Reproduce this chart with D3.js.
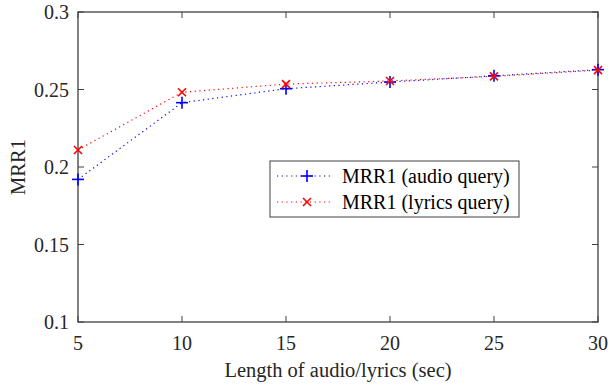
<!DOCTYPE html>
<html>
<head>
<meta charset="utf-8">
<script src="https://cdn.jsdelivr.net/npm/d3@7"></script>
<style>
  body { margin: 0; background: #fff; }
  svg { display: block; }
</style>
</head>
<body>
<div id="chart"></div>
<script>
const lengths = [5, 10, 15, 20, 25, 30]
const audioQuery = [0.192, 0.2415, 0.2505, 0.2548, 0.2588, 0.2628]
const lyricsQuery = [0.211, 0.2482, 0.2535, 0.2555, 0.2585, 0.2625]
const xTicks = [5, 10, 15, 20, 25, 30]
const yTicks = [0.1, 0.15, 0.2, 0.25, 0.3]

const width = 608
const height = 386
const margin = { top: 12, right: 10, bottom: 64, left: 78 }
const axisColor = '#404040'
const font = 'Liberation Serif'
const fontSize = 20

const svg = d3.select('#chart')
  .append('svg')
  .attr('width', width)
  .attr('height', height)

const x = d3.scaleLinear()
  .domain([5, 30])
  .range([margin.left, width - margin.right])

const y = d3.scaleLinear()
  .domain([0.1, 0.3])
  .range([height - margin.bottom, margin.top])

// cadre + ticks vers l'intérieur
const axes = svg.append('g').attr('stroke', axisColor).attr('fill', 'none')
axes.append('rect')
  .attr('x', x(5)).attr('y', y(0.3))
  .attr('width', x(30) - x(5)).attr('height', y(0.1) - y(0.3))
  .attr('stroke-width', 1.3)

const tickLen = 6
xTicks.forEach(t => {
  axes.append('line').attr('x1', x(t)).attr('x2', x(t)).attr('y1', y(0.1)).attr('y2', y(0.1) - tickLen)
  axes.append('line').attr('x1', x(t)).attr('x2', x(t)).attr('y1', y(0.3)).attr('y2', y(0.3) + tickLen)
})
yTicks.forEach(t => {
  axes.append('line').attr('x1', x(5)).attr('x2', x(5) + tickLen).attr('y1', y(t)).attr('y2', y(t))
  axes.append('line').attr('x1', x(30)).attr('x2', x(30) - tickLen).attr('y1', y(t)).attr('y2', y(t))
})

// labels
svg.append('g')
  .selectAll('text')
  .data(xTicks)
  .join('text')
  .attr('x', d => x(d))
  .attr('y', y(0.1) + 28)
  .attr('text-anchor', 'middle')
  .attr('font-family', font)
  .attr('font-size', fontSize)
  .attr('fill', '#262626')
  .text(d => d)

svg.append('g')
  .selectAll('text')
  .data(yTicks)
  .join('text')
  .attr('x', x(5) - 9)
  .attr('y', d => y(d) + 7)
  .attr('text-anchor', 'end')
  .attr('font-family', font)
  .attr('font-size', fontSize)
  .attr('fill', '#262626')
  .text(d => d)

svg.append('text')
  .attr('x', (x(5) + x(30)) / 2)
  .attr('y', height - 9)
  .attr('text-anchor', 'middle')
  .attr('font-family', font)
  .attr('font-size', fontSize + 0.5)
  .attr('fill', '#262626')
  .text('Length of audio/lyrics (sec)')

svg.append('text')
  .attr('transform', `translate(25, ${(y(0.1) + y(0.3)) / 2}) rotate(-90)`)
  .attr('text-anchor', 'middle')
  .attr('font-family', font)
  .attr('font-size', fontSize + 0.5)
  .attr('fill', '#262626')
  .text('MRR1')

// séries
const series = [
  { name: 'MRR1 (audio query)', values: audioQuery, color: '#0000ff', marker: 'plus' },
  { name: 'MRR1 (lyrics query)', values: lyricsQuery, color: '#ff0000', marker: 'cross' }
]

const line = d3.line().x(d => x(d[0])).y(d => y(d[1]))

function drawMarker (g, cx, cy, type, color) {
  const s = type === 'plus' ? 6 : 4
  if (type === 'plus') {
    g.append('line').attr('x1', cx - s).attr('x2', cx + s).attr('y1', cy).attr('y2', cy)
    g.append('line').attr('x1', cx).attr('x2', cx).attr('y1', cy - s).attr('y2', cy + s)
  } else {
    g.append('line').attr('x1', cx - s).attr('x2', cx + s).attr('y1', cy - s).attr('y2', cy + s)
    g.append('line').attr('x1', cx - s).attr('x2', cx + s).attr('y1', cy + s).attr('y2', cy - s)
  }
  g.attr('stroke', color).attr('stroke-width', 1.6)
}

series.forEach(s => {
  const pts = lengths.map((l, i) => [l, s.values[i]])
  svg.append('path')
    .datum(pts)
    .attr('d', line)
    .attr('fill', 'none')
    .attr('stroke', s.color)
    .attr('stroke-width', 1.2)
    .attr('stroke-dasharray', '1.2 3.5')
  pts.forEach(p => drawMarker(svg.append('g'), x(p[0]), y(p[1]), s.marker, s.color))
})

// légende
const lg = svg.append('g').attr('transform', 'translate(270, 161)')
lg.append('rect')
  .attr('width', 249).attr('height', 56)
  .attr('fill', '#fff')
  .attr('stroke', axisColor)
  .attr('stroke-width', 1)

series.forEach((s, i) => {
  const cy = 15 + i * 26
  lg.append('line')
    .attr('x1', 7).attr('x2', 62).attr('y1', cy).attr('y2', cy)
    .attr('stroke', s.color).attr('stroke-width', 1.2)
    .attr('stroke-dasharray', '1.2 3.5')
  drawMarker(lg.append('g'), 37, cy, s.marker, s.color)
  lg.append('text')
    .attr('x', 72).attr('y', cy + 7)
    .attr('font-family', font)
    .attr('font-size', fontSize)
    .attr('fill', '#000')
    .text(s.name)
})
</script>
</body>
</html>
